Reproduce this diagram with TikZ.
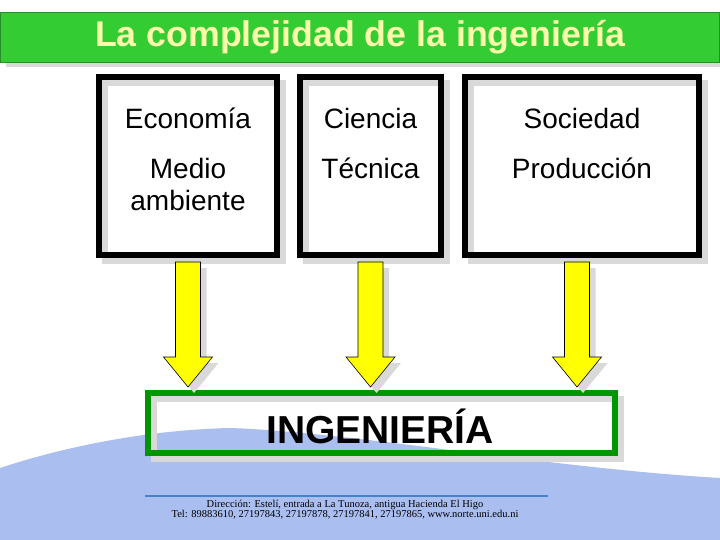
\documentclass[tikz,border=0pt]{standalone}
\usepackage{fontspec}
\setmainfont{Liberation Sans}
\newfontfamily\footfont{Liberation Serif}
\usetikzlibrary{calc,positioning,shadows}

\definecolor{barGreen}{RGB}{51,204,51}
\definecolor{barEdge}{RGB}{40,140,40}
\definecolor{titleYellow}{RGB}{250,250,170}
\definecolor{ingGreen}{RGB}{0,150,0}
\definecolor{arrowYellow}{RGB}{255,255,0}
\definecolor{waveBlue}{RGB}{170,190,240}
\definecolor{footBlue}{RGB}{70,130,200}

\tikzset{
  ring shade/.style={general shadow={shadow xshift=6pt, shadow yshift=-6pt, draw=black!15, line width=6pt}},
  areabox/.style={draw=black, line width=6pt, ring shade, minimum height=178pt, inner sep=0pt},
  areatext/.style={font=\fontsize{28}{32}\selectfont, align=center, inner sep=0pt},
  blockarrow/.style={draw=black, line width=0.6pt, fill=arrowYellow, line join=miter,
    drop shadow={shadow xshift=6pt, shadow yshift=-6pt, fill=black!15, opacity=1}},
}

\begin{document}
\begin{tikzpicture}[x=1pt,y=-1pt]
\useasboundingbox (0,0) rectangle (720,540);
\fill[white] (0,0) rectangle (720,540);

% Blue wave at the bottom
\fill[waveBlue] (0,468) .. controls (70,445) and (150,430) .. (230,428)
  .. controls (350,432) and (550,468) .. (720,478) -- (720,540) -- (0,540) -- cycle;

% Title bar
\node[draw=barEdge, line width=0.8pt, fill=barGreen, minimum width=719pt, minimum height=50pt,
  inner sep=0pt, drop shadow={shadow xshift=5pt, shadow yshift=-5pt, fill=black!15, opacity=1},
  text=titleYellow, font=\bfseries\fontsize{35.7}{38}\selectfont] (title) at (360,37) {La complejidad de la ingeniería};

% Three boxes
\node[areabox, minimum width=178pt] (eco) at (188,166) {};
\node[areabox, minimum width=141pt] (cie) at (370.5,166) {};
\node[areabox, minimum width=234pt] (soc) at (582,166) {};

% Box texts
\node[areatext] (ecoA) at ($(eco.north)+(0,44)$) {Economía};
\node[areatext] (ecoB) at ($(eco.north)+(0,110)$) {Medio\\ambiente};
\node[areatext] (cieA) at ($(cie.north)+(0,44)$) {Ciencia};
\node[areatext] (cieB) at ($(cie.north)+(0,94)$) {Técnica};
\node[areatext] (socA) at ($(soc.north)+(0,44)$) {Sociedad};
\node[areatext] (socB) at ($(soc.north)+(0,94)$) {Producción};

% Engineering box
\node[draw=ingGreen, line width=6pt, ring shade, minimum width=467pt, minimum height=60pt,
  inner sep=0pt] (ing) at (381.5,423) {};
\node[font=\bfseries\fontsize{39}{40}\selectfont, inner sep=0pt] (ingT) at (380,426) {INGENIERÍA};

% Yellow arrows
\foreach \src/\dx in {eco/0, cie/0, soc/-5} {
  \draw[blockarrow] let \p1 = ($(\src.south)+(\dx,4)$), \p2 = ($(\p1 |- ing.north)+(0,-3)$) in
    (\x1-12.5pt,\y1) -- (\x1+12.5pt,\y1) -- (\x1+12.5pt,\y2+30pt) -- (\x1+24.5pt,\y2+30pt)
    -- (\x1,\y2) -- (\x1-24.5pt,\y2+30pt) -- (\x1-12.5pt,\y2+30pt) -- cycle;
}

% Footer
\coordinate (fl) at (145,496);
\coordinate (fr) at (548,496);
\draw[footBlue, line width=1.2pt] (fl) -- (fr);
\node[font=\footfont\fontsize{10.5}{11}\selectfont, inner sep=0pt] (addr) at (345,505)
  {Dirección: Estelí, entrada a La Tunoza, antigua Hacienda El Higo};
\node[font=\footfont\fontsize{10.5}{11}\selectfont, inner sep=0pt] (tel) at (345,515)
  {Tel: 89883610, 27197843, 27197878, 27197841, 27197865, www.norte.uni.edu.ni};
\end{tikzpicture}
\end{document}
